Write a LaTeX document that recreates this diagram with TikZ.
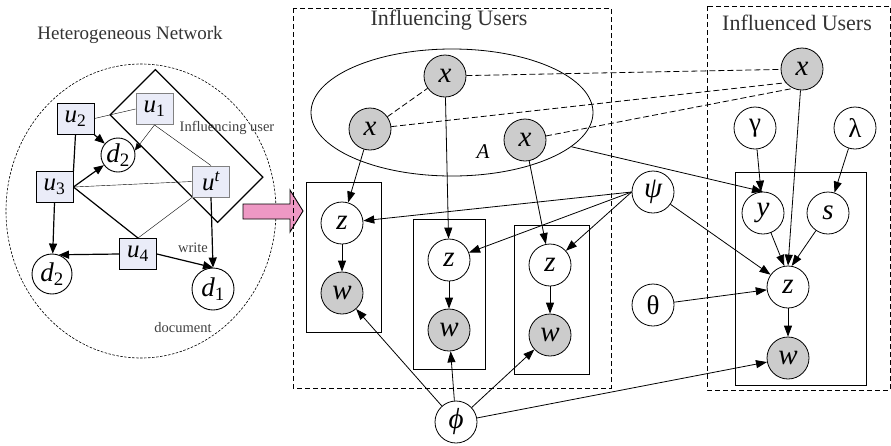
\documentclass[tikz,border=0pt]{standalone}
\usepackage{fontspec}
\setmainfont{Liberation Serif}
\usepackage{tikz}
\usetikzlibrary{
	arrows.meta,
	positioning,
	shapes.geometric
}
\usepackage{xcolor}

\definecolor{nodegray}{RGB}{204,204,204}
\definecolor{ufill}{RGB}{234,236,248}
\definecolor{arrowpink}{RGB}{238,152,196}
\newcommand\fsz[1]{\fontsize{#1}{#1}\selectfont}
\newcommand\sbs[1]{\textsubscript{\upshape #1}}

\begin{document}
\begin{tikzpicture}[x=1pt,y=-1pt,
		latent/.style={circle,draw,fill=white,line width=0.8pt,minimum size=42pt,inner sep=0pt,font=\fsz{29}\itshape},
		observed/.style={latent,fill=nodegray},
		hyper/.style={latent,font=\fsz{27}},
		ubox/.style={rectangle,draw,fill=ufill,line width=0.9pt,minimum width=37pt,minimum height=31pt,inner sep=0pt,font=\fsz{25}\itshape},
		docnode/.style={circle,draw,fill=white,line width=0.9pt,inner sep=0pt,font=\fsz{27}\itshape},
		platebox/.style={draw,line width=0.8pt},
		groupbox/.style={draw,line width=0.7pt,dash pattern=on 5pt off 3pt},
		samelink/.style={line width=0.8pt,dash pattern=on 6pt off 3pt},
		title/.style={font=\fsz{22},text=black!80},
		smalllbl/.style={font=\fsz{14.5},text=black!75},
		arr/.style={-{Triangle[length=11pt,width=8pt]},line width=0.8pt},
		thickarr/.style={-{Triangle[length=10pt,width=8pt]},line width=1.2pt},
		thinline/.style={line width=0.4pt}
	]
	\useasboundingbox (0,0) rectangle (891,445);
	
	% Heterogeneous network
	\node[title,font=\fsz{19}] (hettitle) at (130,35) {Heterogeneous Network};
	\draw[line width=0.6pt,dash pattern=on 2.5pt off 1.5pt] (141,211) ellipse [x radius=135pt, y radius=147pt];
	\node[draw,line width=1.2pt,rotate=-45,minimum width=152pt,minimum height=64pt] (band) at (186.5,146) {};
	
	\node[ubox] (u2) at (75.5,118.5) {u\sbs{2}};
	\node[ubox,draw=gray] (u1) at (154.5,109) {u\sbs{1}};
	\node[ubox] (u3) at (54.5,187) {u\sbs{3}};
	\node[ubox,draw=gray] (ut) at (211,181.5) {u\textsuperscript{t}};
	\node[ubox] (u4) at (138,254) {u\sbs{4}};
	\node[docnode,minimum size=34pt] (d2a) at (118,155) {d\sbs{2}};
	\node[docnode,minimum size=40pt] (d2b) at (52,274) {d\sbs{2}};
	\node[docnode,minimum size=42pt] (d1) at (213,289) {d\sbs{1}};
	
	\node[smalllbl] (inflbl) at (227,128) {Influencing user};
	\node[smalllbl] (writelbl) at (193,248) {write};
	\node[smalllbl] (doclbl) at (183,328) {document};
	
	% links between users and documents
	\draw[thinline] (u2.east) -- (u1.west);
	\draw[thinline,-{Triangle[length=7pt,width=6pt]}] (u1.south) -- (d2a.15);
	\draw[thinline] (u1.south) -- (ut.north);
	\draw[thinline] (u3.east) -- (ut.west);
	\draw[thinline] (u4.north) -- (ut.south west);
	\draw[line width=1.2pt] (u2.south) -- (u3.north east);
	\draw[line width=1.2pt] (u3.east) -- (u4.north);
	\draw[thickarr] (u2) -- (d2a);
	\draw[thickarr] (u3.east) -- (d2a);
	\draw[thickarr] (u3.south) -- (d2b);
	\draw[thickarr] (u4.west) -- (d2b.70);
	\draw[thickarr] (u4.east) -- (d1.north);
	\draw[thickarr] (ut.south) -- (d1.north);
	
	% Arrow to the model
	\draw[line width=0.9pt,fill=arrowpink] (243,204) -- (290,204) -- (290,190) -- (303,211)
		-- (290,232) -- (290,219) -- (243,219) -- cycle;
	
	% Influencing users
	\draw[groupbox] (293,8) rectangle (611,388);
	\node[title] (inflgtitle) at (449,20) {Influencing Users};
	\node[draw,ellipse,line width=0.8pt,minimum width=282pt,minimum height=127pt] (plateA) at (452,112.5) {};
	\node[font=\fsz{21}\itshape] (lblA) at (483,152) {A};
	\node[observed] (xa) at (445,76) {x};
	\node[observed] (xb) at (370,129) {x};
	\node[observed] (xc) at (525,140) {x};
	
	\draw[platebox] (306,182) rectangle (381,332);
	\draw[platebox] (413,219) rectangle (485,369);
	\draw[platebox] (514,225) rectangle (589,374);
	\node[latent] (z1) at (342,223) {z};
	\node[observed] (w1) at (342,293) {w};
	\node[latent] (z2) at (449,260) {z};
	\node[observed] (w2) at (449,330) {w};
	\node[latent] (z3) at (550,265) {z};
	\node[observed] (w3) at (550,335) {w};
	
	\node[latent] (phi) at (456,422) {ϕ};
	\node[latent] (psi) at (653,192) {ψ};
	\node[hyper] (theta) at (653,305) {θ};
	
	% Influenced users
	\draw[groupbox] (707,6) rectangle (890,390);
	\node[title] (infdtitle) at (797,23) {Influenced Users};
	\node[observed] (xr) at (802,69) {x};
	\node[hyper] (gam) at (755,128) {γ};
	\node[hyper] (lam) at (855,128) {λ};
	\draw[platebox] (735,172) rectangle (866,385);
	\node[latent] (yr) at (763,213) {y};
	\node[latent] (sr) at (828,213) {s};
	\node[latent] (zr) at (788,287) {z};
	\node[observed] (wr) at (788,358) {w};
	
	% same user links
	\draw[samelink] (xb) -- (xa);
	\draw[samelink] (xa) -- (xr);
	\draw[samelink] (xb) -- (xr.220);
	\draw[samelink] (xc) -- (xr.245);
	
	% dependencies
	\draw[arr] (xb) -- (z1);
	\draw[arr] (xa) -- (z2);
	\draw[arr] (xc) -- (z3);
	\draw[arr] (z1) -- (w1);
	\draw[arr] (z2) -- (w2);
	\draw[arr] (z3) -- (w3);
	\draw[arr] (psi.west) -- (z1);
	\draw[arr] (psi.west) -- (z2);
	\draw[arr] (psi.west) -- (z3);
	\draw[arr] (phi) -- (w1);
	\draw[arr] (phi) -- (w2);
	\draw[arr] (phi) -- (w3);
	\draw[arr] (phi) -- (wr);
	\draw[arr] (plateA.-16) -- (yr.north);
	\draw[arr] (psi) -- (zr);
	\draw[arr] (theta) -- (zr);
	\draw[arr] (xr) -- (zr.north);
	\draw[arr] (gam) -- (yr);
	\draw[arr] (lam) -- (sr);
	\draw[arr] (yr) -- (zr.100);
	\draw[arr] (sr) -- (zr.80);
	\draw[arr] (zr) -- (wr);
	
\end{tikzpicture}
\end{document}
